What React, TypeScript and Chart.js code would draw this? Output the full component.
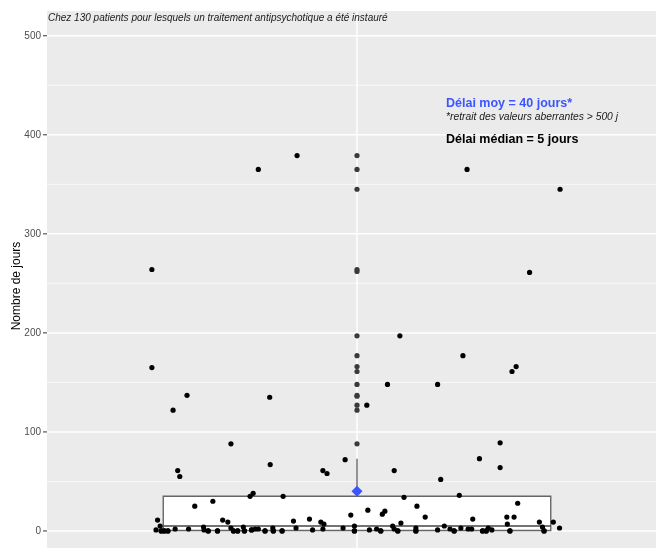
import React, { useEffect, useRef } from "react";
import { Chart, registerables } from "chart.js";

Chart.register(...registerables);

// ---------- text ----------
const TITLE = "Chez 130 patients pour lesquels un traitement antipsychotique a été instauré";
const Y_LABEL = "Nombre de jours";
const NOTE_MEAN = "Délai moy = 40 jours*";
const NOTE_FOOT = "*retrait des valeurs aberrantes > 500 j";
const NOTE_MEDIAN = "Délai médian = 5 jours";

// ---------- axis ----------
const Y_TICKS = [0, 100, 200, 300, 400, 500];
const Y_MINOR = [50, 150, 250, 350, 450];
const CATEGORY_X = 1;

// ---------- data ----------
// jitter offset (category units) and value (days) of each patient
const JITTER_X = [
  -0.116, -0.191, 0.213, 0.393, -0.397, 0.334, 0.083, 0.205, 0.308, -0.397,
  0.3, 0.059, 0.156, -0.329, -0.169, 0.019, -0.356, -0.244, 0.277, 0.237,
  -0.023, -0.168, 0.277, -0.347, 0.072, -0.066, -0.058, -0.343, 0.162, -0.201,
  0.198, -0.207, -0.143, 0.091, -0.279, 0.311, -0.314, 0.116, 0.021, 0.054,
  0.049, -0.012, 0.132, 0.29, 0.304, 0.224, -0.092, -0.386, -0.26, -0.123,
  -0.25, -0.07, 0.353, 0.38, 0.085, 0.291, -0.064, -0.381, -0.005, 0.069,
  0.169, -0.297, -0.22, 0.359, 0.392, 0.114, -0.163, 0.254,
  -0.389, -0.379, -0.373, -0.366, -0.352, -0.326, -0.296, -0.288, -0.27, -0.244,
  -0.239, -0.231, -0.218, -0.204, -0.197, -0.191, -0.178, -0.162, -0.145, -0.118,
  -0.086, -0.066, -0.027, -0.005, 0.024, 0.038, 0.046, 0.072, 0.079, 0.114,
  0.156, 0.18, 0.188, 0.201, 0.215, 0.222, 0.243, 0.25, 0.261, 0.296, 0.362,
  -0.379, -0.373, -0.366, -0.288, -0.27, -0.239, -0.231, -0.218, -0.178, -0.162,
  -0.145, -0.005, 0.046, 0.079, 0.114, 0.188, 0.243, 0.25, 0.296, 0.362, -0.204,
];
const DAYS = [
  379, 365, 365, 345, 264, 261, 197, 177, 166, 165,
  161, 148, 148, 137, 135, 127, 122, 88, 89, 73,
  72, 67, 64, 61, 61, 61, 58, 55, 52, 38,
  36, 35, 35, 34, 30, 28, 25, 25, 21, 20,
  17, 16, 14, 14, 14, 12, 12, 11, 11, 10,
  9, 9, 9, 9, 8, 7, 7, 5, 5, 5,
  5, 4, 4, 4, 3, 3, 3, 3,
  1, 0, 0, 0, 2, 2, 1, 0, 0, 3,
  0, 0, 0, 1, 2, 2, 0, 0, 0, 3,
  1, 2, 3, 0, 1, 2, 0, 2, 0, 0,
  1, 2, 0, 3, 2, 2, 0, 0, 1, 0, 0,
  0, 0, 0, 0, 0, 0, 0, 0, 0, 0,
  0, 0, 0, 0, 0, 0, 0, 0, 0, 0, 1,
];
const OUTLIERS = [379, 365, 345, 264, 262, 197, 177, 166, 161, 148, 137, 136, 127, 122, 88];
const Q1 = 0.5;
const MEDIAN = 5;
const Q3 = 35;
const WHISKER_HIGH = 73;
const MEAN = 40;

// ---------- style ----------
const BOX_HALF = 0.375;
const FONT = "'Liberation Sans', Arial, Helvetica, sans-serif";
const BLUE = "#3B55FF";
const BOX_LINE = "#666666";

const App = () => {
  const ref = useRef<HTMLCanvasElement | null>(null);

  useEffect(() => {
    if (!ref.current) return;

    const panel = {
      id: "panel",
      beforeDraw(chart: any) {
        const { ctx, chartArea: a, scales } = chart;
        const y = scales.y;
        const x = scales.x;
        ctx.save();
        ctx.fillStyle = "#ffffff";
        ctx.fillRect(0, 0, chart.width, chart.height);
        ctx.fillStyle = "#EBEBEB";
        ctx.fillRect(a.left, a.top, a.right - a.left, a.bottom - a.top);
        ctx.strokeStyle = "#ffffff";
        ctx.lineWidth = 0.7;
        for (const v of Y_MINOR) {
          const p = y.getPixelForValue(v);
          ctx.beginPath();
          ctx.moveTo(a.left, p);
          ctx.lineTo(a.right, p);
          ctx.stroke();
        }
        ctx.lineWidth = 1.5;
        for (const v of Y_TICKS) {
          const p = y.getPixelForValue(v);
          ctx.beginPath();
          ctx.moveTo(a.left, p);
          ctx.lineTo(a.right, p);
          ctx.stroke();
        }
        const cx = x.getPixelForValue(CATEGORY_X);
        ctx.beginPath();
        ctx.moveTo(cx, a.top);
        ctx.lineTo(cx, a.bottom);
        ctx.stroke();

        // ticks and labels
        ctx.strokeStyle = "#333333";
        ctx.lineWidth = 1;
        ctx.fillStyle = "#4D4D4D";
        ctx.font = `10px ${FONT}`;
        ctx.textAlign = "right";
        ctx.textBaseline = "middle";
        for (const v of Y_TICKS) {
          const p = y.getPixelForValue(v);
          ctx.beginPath();
          ctx.moveTo(a.left - 4, p);
          ctx.lineTo(a.left, p);
          ctx.stroke();
          ctx.fillText(String(v), a.left - 6, p);
        }
        // y title
        ctx.save();
        ctx.translate(17, 286);
        ctx.rotate(-Math.PI / 2);
        ctx.fillStyle = "#000000";
        ctx.font = `12px ${FONT}`;
        ctx.textAlign = "center";
        ctx.textBaseline = "middle";
        ctx.fillText(Y_LABEL, 0, 0);
        ctx.restore();
        ctx.restore();
      },
      afterDraw(chart: any) {
        const { ctx, chartArea: a } = chart;
        ctx.save();
        ctx.textAlign = "left";
        ctx.textBaseline = "middle";
        ctx.fillStyle = "#1a1a1a";
        ctx.font = `italic 10px ${FONT}`;
        ctx.fillText(TITLE, a.left + 1, 18);

        ctx.fillStyle = BLUE;
        ctx.font = `bold 12.5px ${FONT}`;
        ctx.fillText(NOTE_MEAN, 446, 104);
        ctx.fillStyle = "#1a1a1a";
        ctx.font = `italic 10.3px ${FONT}`;
        ctx.fillText(NOTE_FOOT, 446, 117);
        ctx.fillStyle = "#000000";
        ctx.font = `bold 12.5px ${FONT}`;
        ctx.fillText(NOTE_MEDIAN, 446, 140);
        ctx.restore();
      },
    };

    const jitter = DAYS.map((d, i) => ({ x: CATEGORY_X + JITTER_X[i], y: d }));
    const outl = OUTLIERS.map((d) => ({ x: CATEGORY_X, y: d }));
    const lineBase = {
      showLine: true,
      pointRadius: 0,
      borderColor: BOX_LINE,
      borderWidth: 1.4,
      fill: false,
    };

    const chart = new Chart(ref.current, {
      type: "scatter",
      data: {
        datasets: [
          {
            data: [{ x: CATEGORY_X, y: MEAN }],
            pointStyle: "rectRot",
            pointRadius: 5.5,
            backgroundColor: BLUE,
            borderWidth: 0,
            order: 0,
          },
          {
            data: jitter,
            pointRadius: 2.6,
            backgroundColor: "#000000",
            borderWidth: 0,
            order: 1,
          },
          {
            data: outl,
            pointRadius: 2.6,
            backgroundColor: "#3a3a3a",
            borderWidth: 0,
            order: 2,
          },
          {
            ...lineBase,
            data: [
              { x: CATEGORY_X, y: Q3 },
              { x: CATEGORY_X, y: WHISKER_HIGH },
            ],
            order: 3,
          },
          {
            ...lineBase,
            borderColor: "#444444",
            data: [
              { x: CATEGORY_X - BOX_HALF, y: MEDIAN },
              { x: CATEGORY_X + BOX_HALF, y: MEDIAN },
            ],
            order: 4,
          },
          {
            ...lineBase,
            data: [
              { x: CATEGORY_X - BOX_HALF, y: Q1 },
              { x: CATEGORY_X + BOX_HALF, y: Q1 },
              { x: CATEGORY_X + BOX_HALF, y: Q3 },
              { x: CATEGORY_X - BOX_HALF, y: Q3 },
              { x: CATEGORY_X - BOX_HALF, y: Q1 },
            ],
            order: 5,
          },
          {
            showLine: true,
            pointRadius: 0,
            borderWidth: 0,
            borderColor: "rgba(0,0,0,0)",
            backgroundColor: "#ffffff",
            fill: { value: Q1 },
            data: [
              { x: CATEGORY_X - BOX_HALF, y: Q3 },
              { x: CATEGORY_X + BOX_HALF, y: Q3 },
            ],
            order: 6,
          },
        ],
      },
      options: {
        animation: false,
        responsive: false,
        events: [],
        layout: { autoPadding: false, padding: { left: 47, top: 11, right: 0, bottom: 0 } },
        plugins: {
          legend: { display: false },
          tooltip: { enabled: false },
          title: { display: false },
        },
        scales: {
          x: { type: "linear", display: false, min: 0.4, max: 1.5787 },
          y: { type: "linear", display: false, min: -17.2, max: 525 },
        },
      },
      plugins: [panel],
    } as any);

    return () => chart.destroy();
  }, []);

  return (
    <div style={{ position: "fixed", left: 0, top: 0, width: 656, height: 548, background: "#fff" }}>
      <canvas ref={ref} width={656} height={548} style={{ width: 656, height: 548, display: "block" }} />
    </div>
  );
};

export default App;
